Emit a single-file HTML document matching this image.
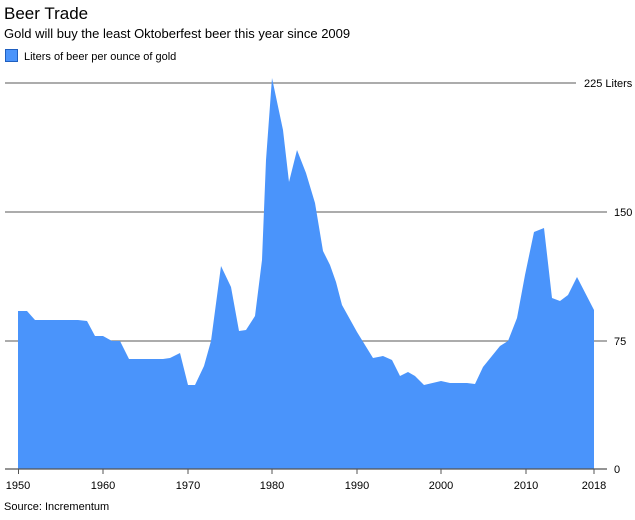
<!DOCTYPE html>
<html><head><meta charset="utf-8"><style>
body{margin:0;background:#fff;font-family:"Liberation Sans",sans-serif;}
</style></head><body>
<svg width="635" height="515" xmlns="http://www.w3.org/2000/svg" font-family="Liberation Sans, sans-serif">
<rect width="635" height="515" fill="#fff"/>
<text x="4" y="19" font-size="17" fill="#000">Beer Trade</text>
<text x="4" y="38" font-size="13" fill="#000">Gold will buy the least Oktoberfest beer this year since 2009</text>
<rect x="5.5" y="49.5" width="12" height="12" fill="#4a94fb" stroke="#1f5fbf"/>
<text x="24" y="60" font-size="11" fill="#000">Liters of beer per ounce of gold</text>
<g stroke="#7a7a7a" stroke-width="1.3">
<line x1="5" y1="83" x2="576" y2="83"/>
<line x1="5" y1="212" x2="607" y2="212"/>
<line x1="5" y1="341" x2="607" y2="341"/>
</g>
<polygon fill="#4a94fb" points="18,311 27,311 35,320 78,320 87,321 95,336 103,336 112,341 120,341 129,359 163,359 170,358 180,353 188,385 195,385 204,366 211,341 221,266 231,287 239,331 246,330 255,316 262,260 266,160 272,78 283,130 289,182 297,150 306,173 315,203 323,251 330,265 336,282 342,305 357,332 373,358 383,356 392,360 400,376 408,372 415,376 424,385 441,381 450,383 467,383 475,384 483,367 500,346 508,341 517,318 525,275 534,232 544,228 552,298 560,301 568,295 577,277 594,310 594,469 18,469"/>
<line x1="5" y1="469" x2="607" y2="469" stroke="#555" stroke-width="1.3"/>
<g stroke="#555" stroke-width="1">
<line x1="18.5" y1="469" x2="18.5" y2="474"/>
<line x1="103" y1="469" x2="103" y2="474"/>
<line x1="188" y1="469" x2="188" y2="474"/>
<line x1="272" y1="469" x2="272" y2="474"/>
<line x1="357" y1="469" x2="357" y2="474"/>
<line x1="441" y1="469" x2="441" y2="474"/>
<line x1="526" y1="469" x2="526" y2="474"/>
<line x1="594" y1="469" x2="594" y2="474"/>
</g>
<g font-size="11" fill="#000" text-anchor="middle">
<text x="18" y="489">1950</text>
<text x="103" y="489">1960</text>
<text x="188" y="489">1970</text>
<text x="272" y="489">1980</text>
<text x="357" y="489">1990</text>
<text x="441" y="489">2000</text>
<text x="526" y="489">2010</text>
<text x="594" y="489">2018</text>
</g>
<g font-size="11" fill="#000">
<text x="584" y="87">225 Liters</text>
<text x="614" y="216">150</text>
<text x="614" y="345">75</text>
<text x="614" y="473">0</text>
</g>
<text x="4" y="510" font-size="11" fill="#000">Source: Incrementum</text>
</svg>
</body></html>
